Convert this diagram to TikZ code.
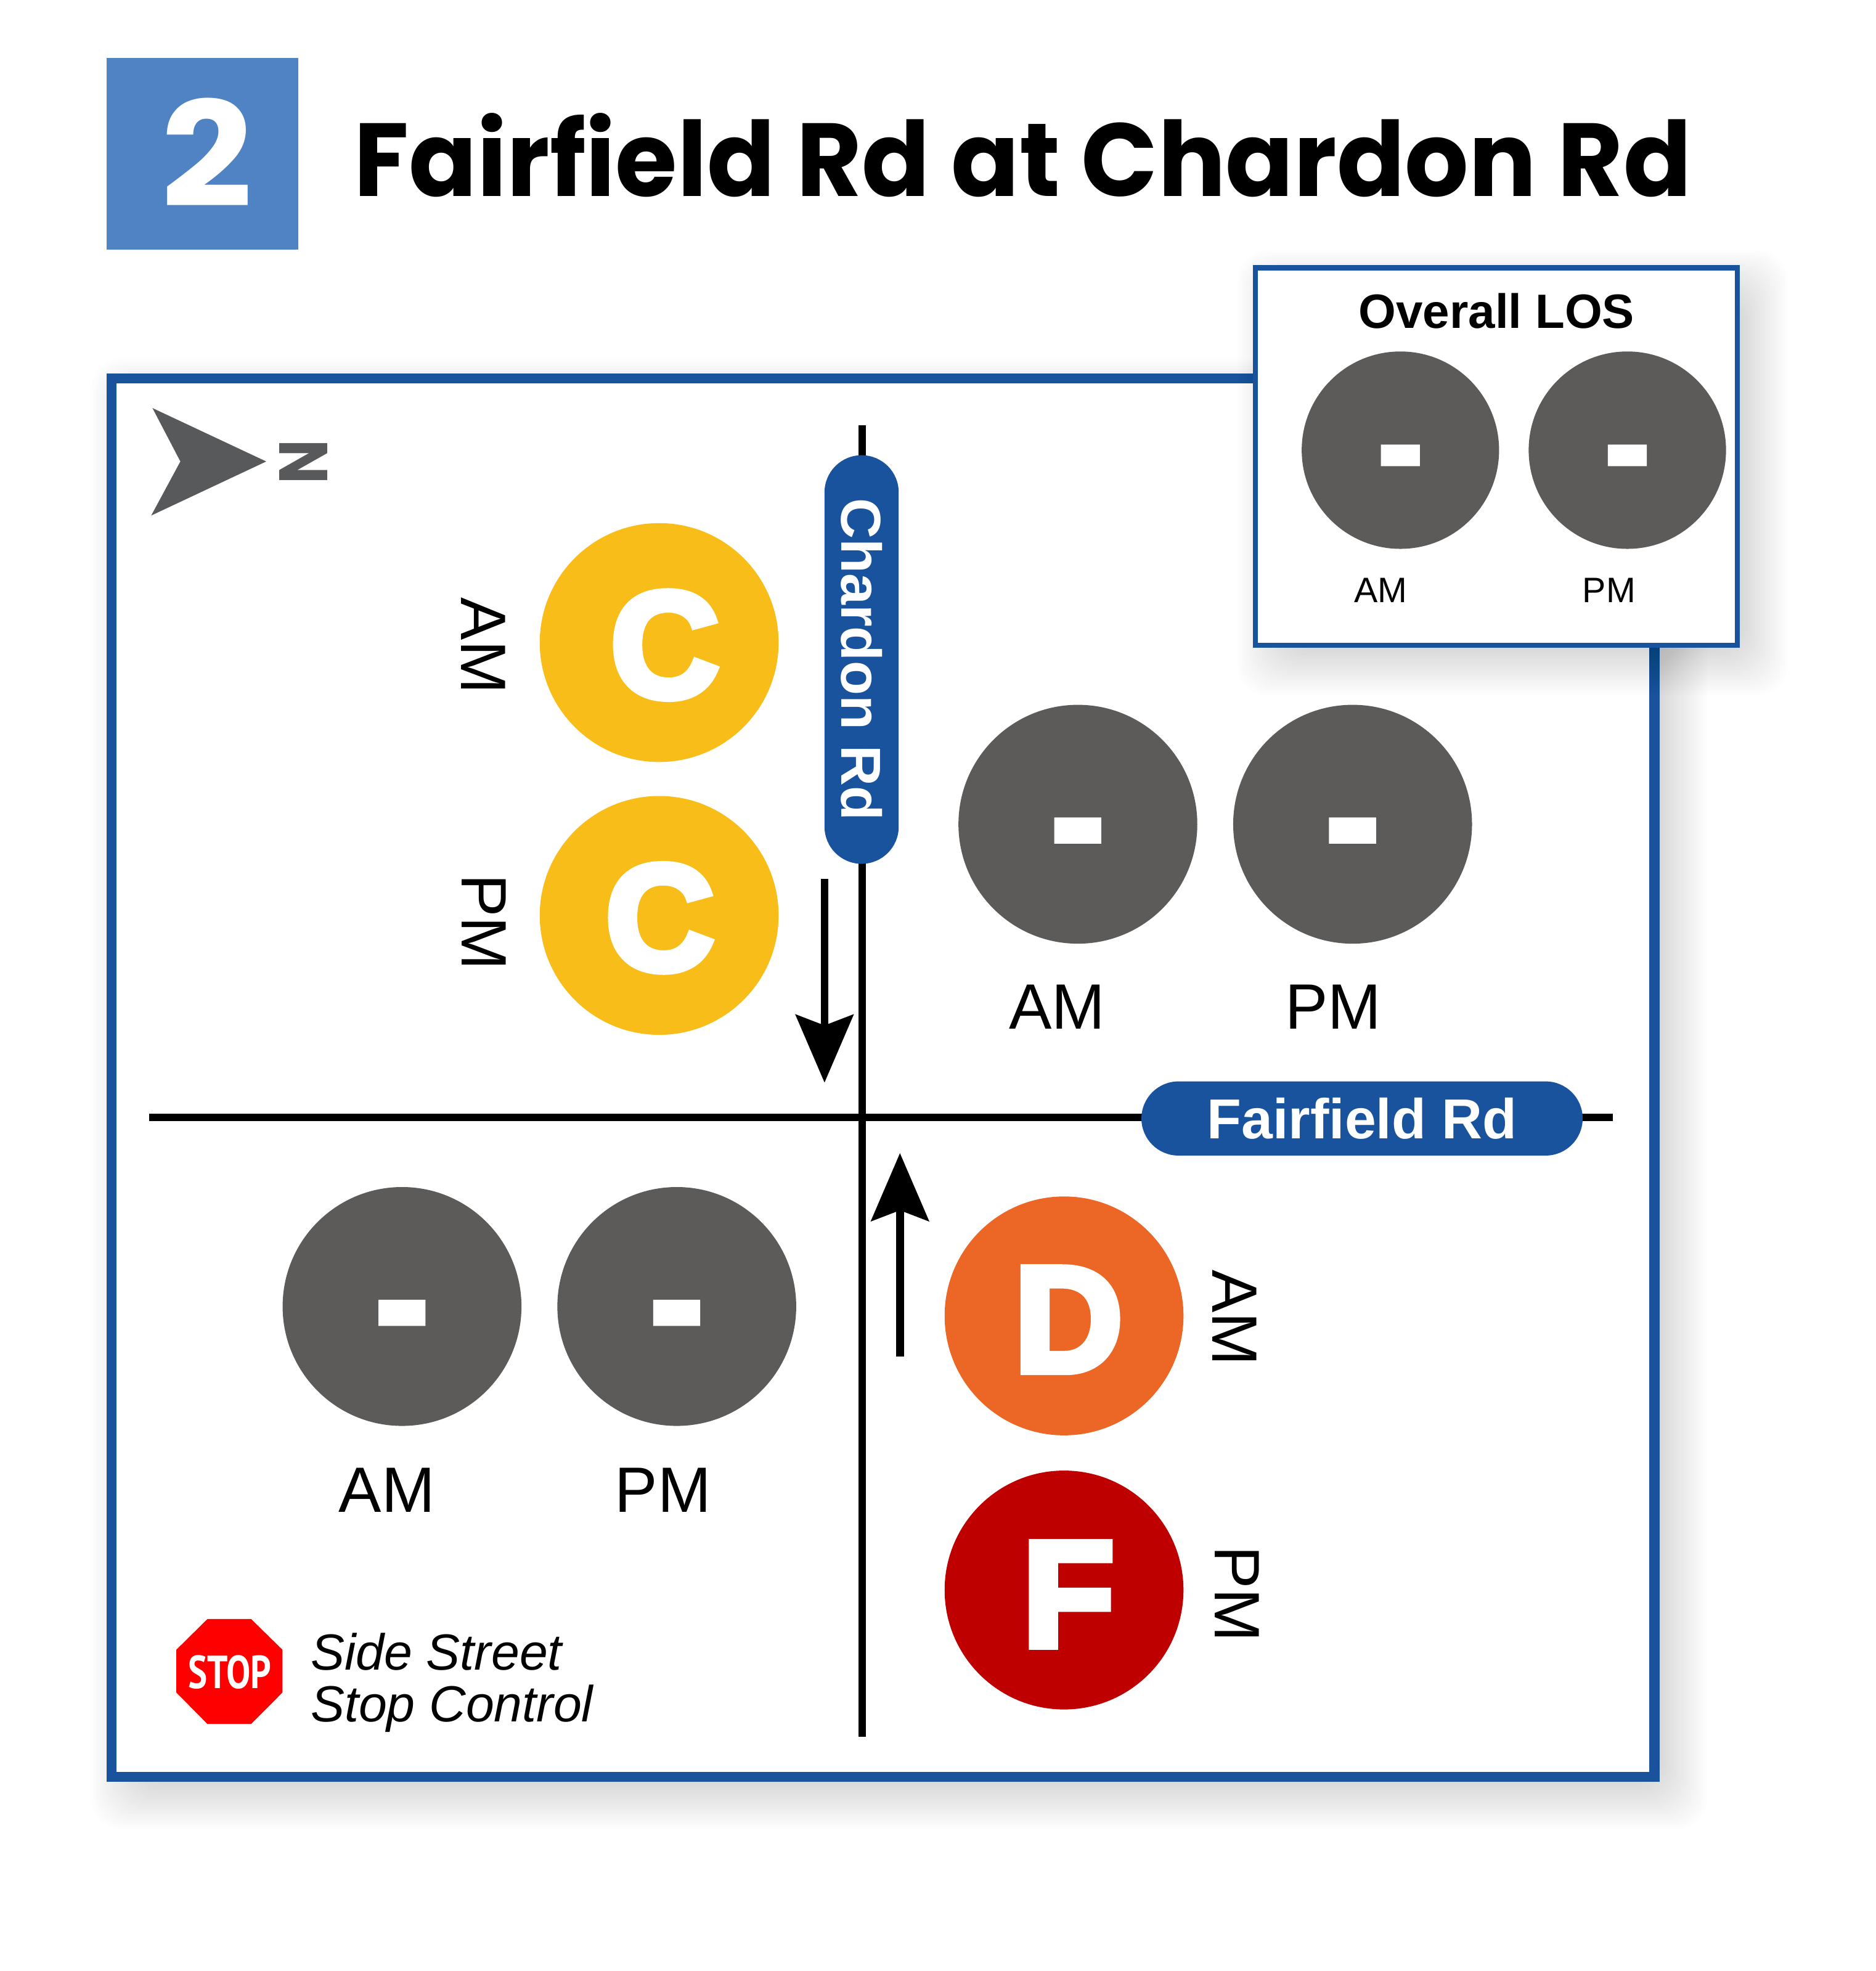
\documentclass[tikz,border=0pt]{standalone}
\usepackage{fontspec}
\setmainfont{Liberation Sans}
\newfontfamily\geofont{Poppins}
\newfontfamily\heavyfont[UprightFont=* Bold,FakeBold=5]{Liberation Sans}
\newfontfamily\stopfont{PT Sans}
\usetikzlibrary{arrows.meta,shapes.misc}

\definecolor{frameblue}{HTML}{19539E}
\definecolor{squareblue}{HTML}{4F83C4}
\definecolor{losgrey}{HTML}{5C5B59}
\definecolor{northgrey}{HTML}{58595B}
\definecolor{losC}{HTML}{F8BD19}
\definecolor{losD}{HTML}{EC6725}
\definecolor{losF}{HTML}{BF0000}

\newcommand{\losdash}{\smash{\raisebox{-.30em}{-}}}
\newcommand{\softshadow}[4]{%
  \foreach \e in {-13,-11,...,25}
    \fill[black, fill opacity=.0085, rounded corners=14pt]
      (#1+13-\e,#2+13-\e) rectangle (#3+13+\e,#4+13+\e);
}

\tikzset{
  losdot/.style={circle, minimum size=3.8cm, inner sep=0pt, text=white},
  lettermark/.style={inner sep=0pt, text=white, font=\heavyfont\fontsize{68}{68}\selectfont},
  dashdot/.style={losdot, fill=losgrey, font=\heavyfont\fontsize{70}{70}\selectfont},
  smalldot/.style={dashdot, minimum size=3.14cm, font=\heavyfont\fontsize{58}{58}\selectfont},
  bigtime/.style={font=\fontsize{29}{29}\selectfont, inner sep=0pt},
  smalltime/.style={font=\fontsize{16}{16}\selectfont, inner sep=0pt},
  roadline/.style={line width=3.4pt},
  roadpill/.style={rounded rectangle, fill=frameblue, text=white, inner sep=0pt, minimum height=1.18cm, font=\bfseries\fontsize{25.5}{25.5}\selectfont},
  trafficarrow/.style={line width=3.5pt, -{Stealth[length=30.7pt, width=26pt, inset=4.8pt]}},
  panel/.style={draw=frameblue, fill=white}
}

\begin{document}
\begin{tikzpicture}[x=0.02cm, y=-0.02cm]
    \useasboundingbox (0.25,0) rectangle (1492.25,1567.5);

    % number and title
    \node[fill=squareblue, minimum size=3.05cm, inner sep=0pt] (numbox) at (161.25,122.25) {};
    \node[xscale=1.1, text=white, inner sep=0pt, font=\geofont\bfseries\fontsize{66}{66}\selectfont] (num) at (165,121) {2};
    \node[anchor=base west, inner sep=0pt, xscale=.967, font=\geofont\bfseries\fontsize{47}{47}\selectfont] (title) at (281.5,156) {Fairfield Rd at Chardon Rd};

    % main frame
    \softshadow{85}{297}{1320}{1417}
    \draw[panel, line width=4.55pt] (89,301) rectangle (1316,1413);

    % north arrow
    \fill[northgrey] (121.5,324.5) -- (212,367) -- (120.5,410) -- (143.7,367) -- cycle;
    \node[rotate=-90, xscale=.86, text=northgrey, inner sep=0pt, font=\geofont\bfseries\fontsize{31}{31}\selectfont] (north) at (241.5,367.5) {N};

    % roads
    \coordinate (chardonN) at (686,338);
    \coordinate (chardonS) at (686,1381);
    \coordinate (fairfieldW) at (119,888.5);
    \coordinate (fairfieldE) at (1283,888.5);
    \draw[roadline] (chardonN) -- (chardonS);
    \draw[roadline] (fairfieldW) -- (fairfieldE);
    \node[roadpill, rotate=-90, minimum width=6.5cm] (chardon) at (685.5,524.5) {Chardon Rd};
    \node[roadpill, minimum width=7.02cm] (fairfield) at (1083.5,889.5) {Fairfield Rd};

    % travel arrows
    \coordinate (southA) at (656,699);
    \coordinate (southB) at (656,861);
    \coordinate (northA) at (716,1079);
    \coordinate (northB) at (716,917);
    \draw[trafficarrow] (southA) -- (southB);
    \draw[trafficarrow] (northA) -- (northB);

    % west leg
    \node[losdot, fill=losC] (cAM) at (524.5,511) {};
    \node[losdot, fill=losC] (cPM) at (524.5,728) {};
    \node[lettermark] (cAMletter) at (529,513) {C};
    \node[lettermark] (cPMletter) at (525,730) {C};
    \node[bigtime, rotate=-90] (cAMtime) at (384.5,513.5) {AM};
    \node[bigtime, rotate=-90] (cPMtime) at (385,733.5) {PM};

    % north leg
    \node[dashdot] (nAM) at (857.5,655.5) {\losdash};
    \node[dashdot] (nPM) at (1076,655.5) {\losdash};
    \node[bigtime] (nAMtime) at (841,801) {AM};
    \node[bigtime] (nPMtime) at (1060.5,801) {PM};

    % south leg
    \node[dashdot] (sAM) at (320,1039) {\losdash};
    \node[dashdot] (sPM) at (538.5,1039) {\losdash};
    \node[bigtime] (sAMtime) at (308,1185) {AM};
    \node[bigtime] (sPMtime) at (527.5,1185) {PM};

    % east leg
    \node[losdot, fill=losD] (dAM) at (846.5,1046.5) {};
    \node[losdot, fill=losF] (fPM) at (846.5,1264.5) {};
    \node[lettermark] (dAMletter) at (850,1049.5) {D};
    \node[lettermark] (fPMletter) at (850,1268) {F};
    \node[bigtime, rotate=-90] (dAMtime) at (982,1048) {AM};
    \node[bigtime, rotate=-90] (fPMtime) at (984,1267.5) {PM};

    % stop control note
    \fill[red] (165.2,1287.6) -- (200,1287.6) -- (224.9,1312) -- (224.9,1346) -- (200,1371) -- (165.2,1371) -- (140.5,1346) -- (140.5,1312) -- cycle;
    \node[xscale=.78, text=white, inner sep=0pt, font=\stopfont\bfseries\fontsize{21}{21}\selectfont] (stop) at (183,1330) {STOP};
    \node[anchor=base west, inner sep=0pt, font=\itshape\fontsize{23}{23}\selectfont] (side) at (247,1328) {Side Street};
    \node[anchor=base west, inner sep=0pt, font=\itshape\fontsize{23}{23}\selectfont] (control) at (247,1369) {Stop Control};

    % overall box
    \softshadow{996.5}{211}{1384}{515}
    \draw[panel, line width=2.3pt] (998.5,213) rectangle (1382,513);
    \node[inner sep=0pt, anchor=base, font=\bfseries\fontsize{21.8}{21.8}\selectfont] (overall) at (1190.5,261) {Overall LOS};
    \node[smalldot] (oAM) at (1114,358) {\losdash};
    \node[smalldot] (oPM) at (1294.5,358) {\losdash};
    \node[smalltime] (oAMtime) at (1098.5,469.5) {AM};
    \node[smalltime] (oPMtime) at (1280,469.5) {PM};
\end{tikzpicture}
\end{document}
